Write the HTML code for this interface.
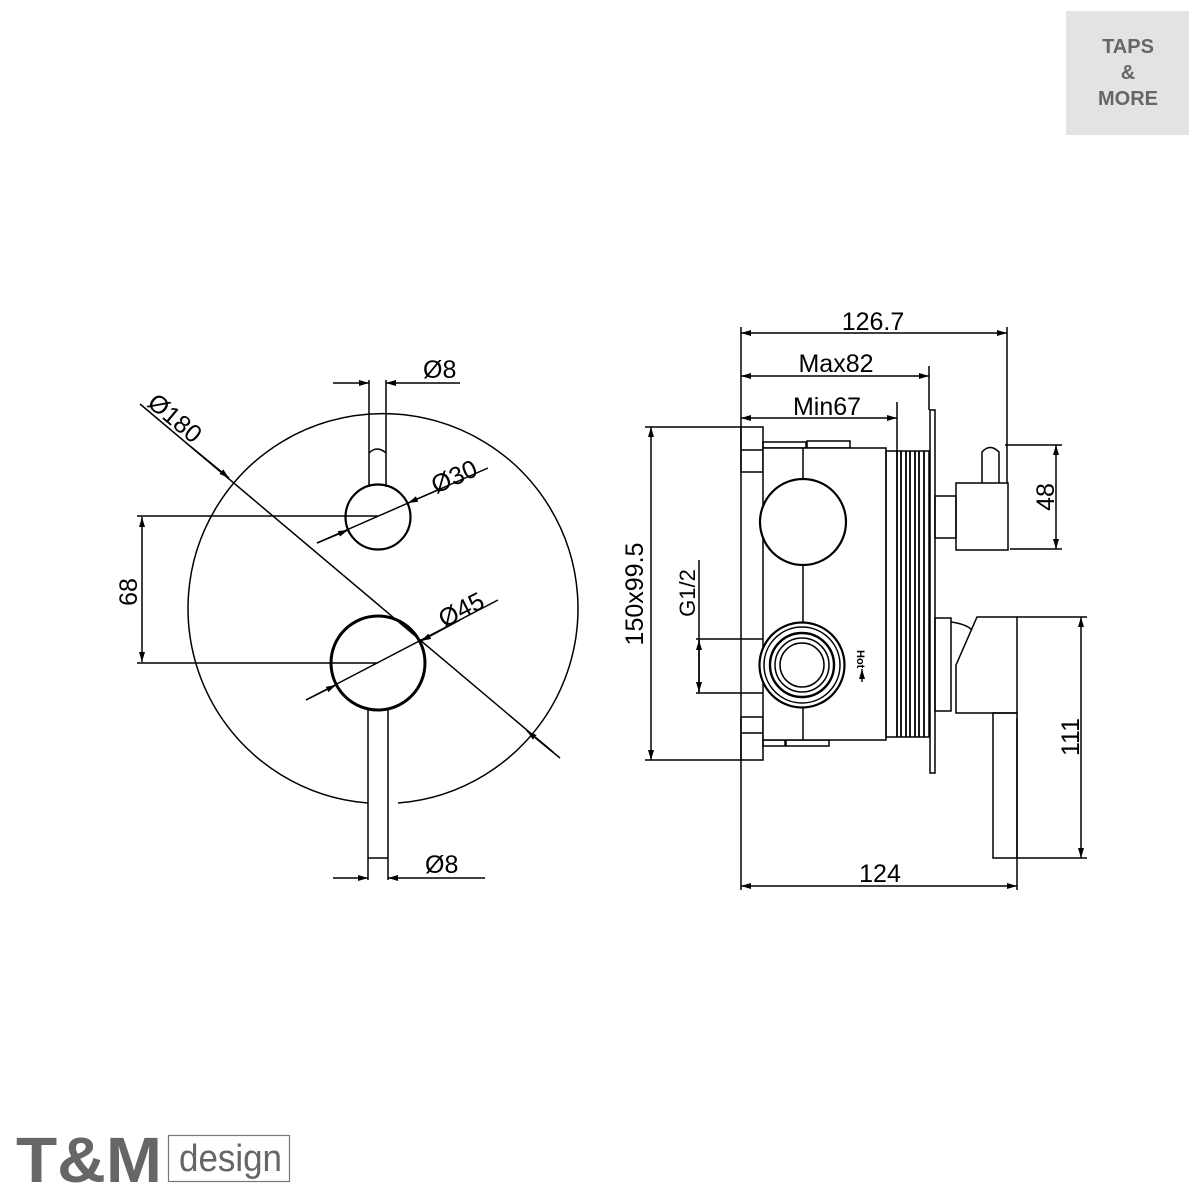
<!DOCTYPE html>
<html><head><meta charset="utf-8"><style>
html,body{margin:0;padding:0;background:#fff}
svg{display:block}
text{font-family:"Liberation Sans",Arial,sans-serif;fill:#000}
</style></head><body>
<svg width="1200" height="1200" viewBox="0 0 1200 1200" xmlns="http://www.w3.org/2000/svg">
<defs>
<marker id="a" viewBox="0 0 10 6" refX="10" refY="3" markerWidth="10" markerHeight="6" orient="auto-start-reverse" markerUnits="userSpaceOnUse"><path d="M0,0 L10,3 L0,6 z" fill="#000"/></marker>
</defs>
<rect x="1066" y="11" width="123" height="124" fill="#e3e3e3"/>
<g font-weight="bold" font-size="20" text-anchor="middle">
<text x="1128" y="53" style="fill:#666">TAPS</text>
<text x="1128" y="79" style="fill:#666">&amp;</text>
<text x="1128" y="105" style="fill:#666">MORE</text>
</g>
<text x="16" y="1182" font-size="64" font-weight="bold" style="fill:#666" textLength="146" lengthAdjust="spacingAndGlyphs">T&amp;M</text>
<rect x="168.5" y="1135.5" width="121" height="46" fill="none" stroke="#777" stroke-width="1.2"/>
<text x="179" y="1171" font-size="38" style="fill:#666" textLength="103" lengthAdjust="spacingAndGlyphs">design</text>

<g fill="none" stroke="#000" stroke-width="1.5">
<path d="M368,803 A195,195 0 1 1 398,803"/>
<line x1="369" y1="380" x2="369" y2="487"/><line x1="386" y1="380" x2="386" y2="487"/>
<path d="M369,453 Q377,445 386,453"/>
<circle cx="378" cy="517" r="32.5" stroke-width="2.2"/>
<circle cx="378" cy="663" r="47" stroke-width="3"/>
<line x1="368" y1="710" x2="368" y2="880"/><line x1="388" y1="710" x2="388" y2="880"/>
<line x1="368" y1="858" x2="388" y2="858"/>
<line x1="333" y1="383" x2="369" y2="383" marker-end="url(#a)"/>
<line x1="460" y1="383" x2="386" y2="383" marker-end="url(#a)"/>
<line x1="333" y1="878" x2="368" y2="878" marker-end="url(#a)"/>
<line x1="485" y1="878" x2="388" y2="878" marker-end="url(#a)"/>
<line x1="140" y1="404" x2="553" y2="752"/>
<line x1="190" y1="446" x2="229" y2="478" marker-end="url(#a)"/>
<line x1="560" y1="758" x2="527" y2="731" marker-end="url(#a)"/>
<line x1="317" y1="543" x2="488" y2="468"/>
<line x1="317" y1="543" x2="348" y2="530" marker-end="url(#a)"/>
<line x1="440" y1="489" x2="408" y2="503" marker-end="url(#a)"/>
<line x1="306" y1="700" x2="498" y2="600"/>
<line x1="306" y1="700" x2="336" y2="685" marker-end="url(#a)"/>
<line x1="460" y1="620" x2="421" y2="641" marker-end="url(#a)"/>
<line x1="137" y1="516" x2="378" y2="516"/>
<line x1="137" y1="663" x2="378" y2="663"/>
<line x1="142" y1="590" x2="142" y2="517" marker-end="url(#a)"/>
<line x1="142" y1="590" x2="142" y2="662" marker-end="url(#a)"/>

<line x1="741" y1="327" x2="741" y2="890"/>
<line x1="1007" y1="327" x2="1007" y2="483"/>
<line x1="929" y1="366" x2="929" y2="410"/>
<line x1="897" y1="402" x2="897" y2="451"/>
<line x1="1017" y1="718" x2="1017" y2="890"/>
<line x1="741" y1="333" x2="1007" y2="333" marker-start="url(#a)" marker-end="url(#a)"/>
<line x1="741" y1="376" x2="929" y2="376" marker-start="url(#a)" marker-end="url(#a)"/>
<line x1="741" y1="418" x2="897" y2="418" marker-start="url(#a)" marker-end="url(#a)"/>
<line x1="741" y1="886" x2="1017" y2="886" marker-start="url(#a)" marker-end="url(#a)"/>
<line x1="645" y1="427" x2="741" y2="427"/><line x1="645" y1="760" x2="741" y2="760"/>
<line x1="651" y1="427" x2="651" y2="760" marker-start="url(#a)" marker-end="url(#a)"/>
<line x1="1005" y1="445" x2="1062" y2="445"/><line x1="1010" y1="549" x2="1062" y2="549"/>
<line x1="1056" y1="445" x2="1056" y2="549" marker-start="url(#a)" marker-end="url(#a)"/>
<line x1="1017" y1="617" x2="1087" y2="617"/><line x1="1017" y1="858" x2="1087" y2="858"/>
<line x1="1081" y1="617" x2="1081" y2="858" marker-start="url(#a)" marker-end="url(#a)"/>
<line x1="699" y1="560" x2="699" y2="693"/>
<line x1="696" y1="639" x2="785" y2="639"/><line x1="696" y1="693" x2="785" y2="693"/>
<line x1="699" y1="666" x2="699" y2="640" marker-end="url(#a)"/>
<line x1="699" y1="666" x2="699" y2="692" marker-end="url(#a)"/>
<rect x="741" y="427" width="22" height="45"/><line x1="741" y1="450" x2="763" y2="450"/>
<rect x="741" y="717" width="22" height="43"/><line x1="741" y1="733" x2="763" y2="733"/>
<rect x="763" y="442" width="43" height="6"/><rect x="807" y="441" width="43" height="7"/>
<rect x="763" y="740" width="22" height="6"/><rect x="786" y="740" width="43" height="6"/>
<rect x="763" y="448" width="123" height="292" fill="#fff"/>
<line x1="803" y1="448" x2="803" y2="740"/>
<circle cx="803" cy="522" r="43" fill="#fff" stroke-width="2.2"/>
<circle cx="802" cy="665" r="42.5" fill="#fff" stroke-width="2.2"/>
<circle cx="802" cy="665" r="38"/>
<circle cx="802" cy="665" r="32" stroke-width="2.4"/>
<circle cx="802" cy="665" r="27"/>
<circle cx="802" cy="665" r="22"/>
<rect x="886" y="451" width="43" height="286"/>
<g stroke-width="1.8"><line x1="897" y1="451" x2="897" y2="737"/><line x1="901" y1="451" x2="901" y2="737"/><line x1="906" y1="451" x2="906" y2="737"/><line x1="910" y1="451" x2="910" y2="737"/><line x1="915" y1="451" x2="915" y2="737"/><line x1="919" y1="451" x2="919" y2="737"/><line x1="924" y1="451" x2="924" y2="737"/></g>
<rect x="930" y="410" width="5" height="363"/>
<rect x="935" y="496" width="21" height="42"/>
<rect x="956" y="483" width="52" height="67"/>
<path d="M982,483 L982,452 Q990,443 999,452 L999,483"/>
<rect x="935" y="618" width="16" height="93"/>
<path d="M951,622 Q966,624 972,630"/>
<path d="M977,617 L1017,617 L1017,713 L956,713 L956,665 Z"/>
<rect x="993" y="713" width="24" height="145"/>
</g>

<g font-size="25">
<text x="423" y="378">Ø8</text>
<text x="425" y="873">Ø8</text>
<text transform="translate(146,405) rotate(40)">Ø180</text>
<text transform="translate(436,494) rotate(-24)">Ø30</text>
<text transform="translate(444,628) rotate(-27)">Ø45</text>
<text transform="translate(137,592) rotate(-90)" text-anchor="middle">68</text>
<text x="873" y="330" text-anchor="middle">126.7</text>
<text x="836" y="372" text-anchor="middle">Max82</text>
<text x="827" y="415" text-anchor="middle">Min67</text>
<text x="880" y="882" text-anchor="middle">124</text>
<text transform="translate(643,594) rotate(-90)" text-anchor="middle">150x99.5</text>
<text transform="translate(1054,497) rotate(-90)" text-anchor="middle">48</text>
<text transform="translate(1079,737) rotate(-90)" text-anchor="middle">111</text>
<text transform="translate(695,593) rotate(-90)" text-anchor="middle" font-size="22">G1/2</text>
</g>
<text transform="translate(857,650) rotate(90)" font-size="11" font-weight="bold" font-family="Liberation Serif">Hot</text>
<line x1="862" y1="682" x2="862" y2="669" stroke="#000" stroke-width="1.4" marker-end="url(#a)"/>
</svg>
</body></html>
